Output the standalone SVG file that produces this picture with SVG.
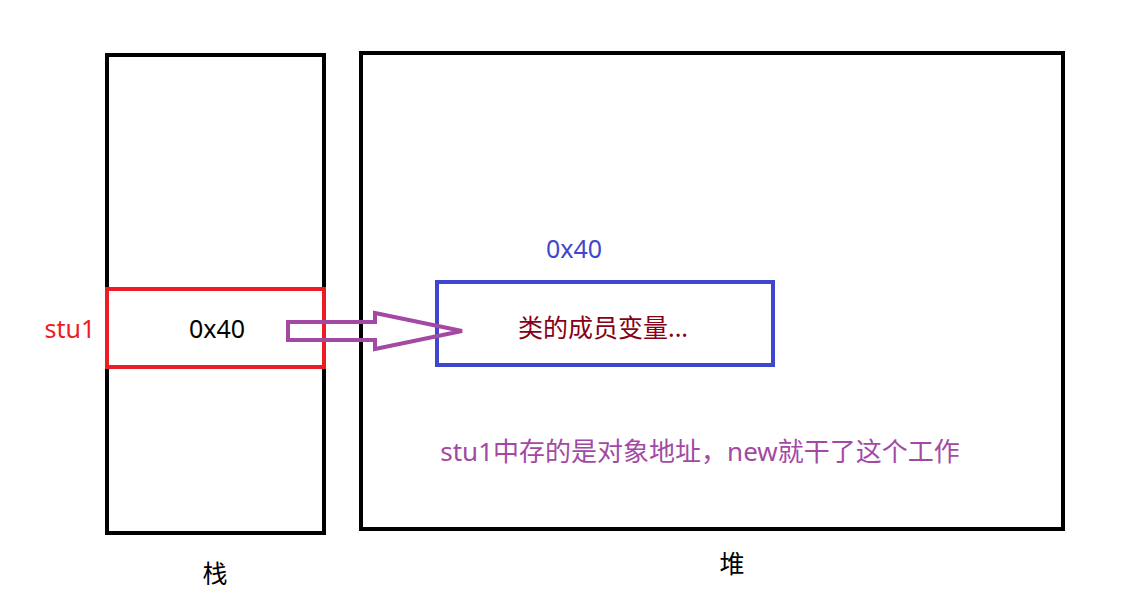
<svg xmlns="http://www.w3.org/2000/svg" width="1132" height="612" viewBox="0 0 1132 612">
<style>
text{font-family:"Noto Sans","Noto Sans CJK SC",sans-serif;font-size:25px}
.box{fill:none;stroke-width:4}
</style>
<rect width="1132" height="612" fill="#fff"/>
<g id="stack"><rect class="box" x="107" y="55" width="217" height="478" stroke="#000"/><text x="215" y="583" text-anchor="middle">栈</text></g>
<g id="heap"><rect class="box" x="361" y="53" width="702" height="476" stroke="#000"/><text x="732" y="573" text-anchor="middle">堆</text></g>
<g id="stu1"><rect class="box" x="107" y="289" width="217" height="78" stroke="#ed1c24"/><text x="217" y="338" text-anchor="middle" fill="#000">0x40</text><text x="70" y="338" text-anchor="middle" fill="#ed1c24">stu1</text></g>
<g id="obj"><rect class="box" x="437" y="282" width="336" height="83" stroke="#3f48cc"/><text x="603" y="337" text-anchor="middle" fill="#880015">类的成员变量...</text><text x="574" y="258" text-anchor="middle" fill="#3f48cc">0x40</text></g>
<g id="note"><text x="700" y="461" text-anchor="middle" fill="#a349a4" style="font-size:26px">stu1中存的是对象地址，new就干了这个工作</text></g>
<g id="connectors"><polygon points="288,322 375,322 375,313 462,331 375,349 375,340 288,340" fill="none" stroke="#a349a4" stroke-width="4"/></g>
</svg>
